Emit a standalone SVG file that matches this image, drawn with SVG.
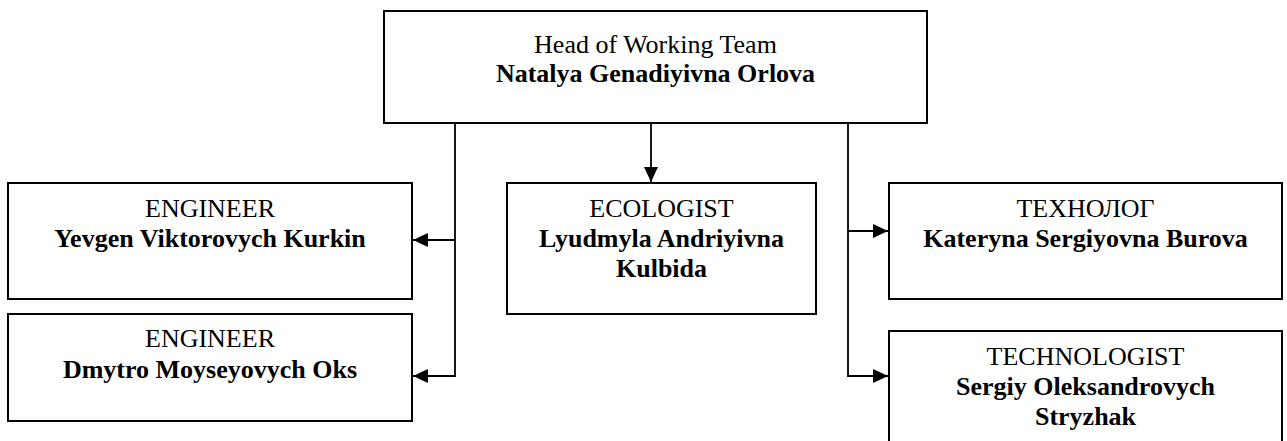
<svg xmlns="http://www.w3.org/2000/svg" width="1287" height="441" viewBox="0 0 1287 441">
  <style>
    .box { fill: #ffffff; stroke: #000000; stroke-width: 2; }
    .conn { fill: none; stroke: #000000; stroke-width: 1.8; }
    text { font-family: "Liberation Serif", "Times New Roman", serif; font-size: 26px; fill: #000000; text-anchor: middle; }
    .b { font-weight: bold; }
  </style>
  <defs>
    <marker id="arrow" markerUnits="userSpaceOnUse" markerWidth="15" markerHeight="14" refX="15" refY="7" orient="auto">
      <path d="M0,0 L15,7 L0,14 z" fill="#000000"/>
    </marker>
  </defs>
  <rect width="1287" height="441" fill="#ffffff"/>

  <g id="connectors">
    <path class="conn" d="M455,123 V376 H413" marker-end="url(#arrow)"/>
    <path class="conn" d="M455,240 H413" marker-end="url(#arrow)"/>
    <path class="conn" d="M651,123 V182" marker-end="url(#arrow)"/>
    <path class="conn" d="M848,123 V376 H888" marker-end="url(#arrow)"/>
    <path class="conn" d="M848,231 H888" marker-end="url(#arrow)"/>
  </g>

  <g id="head">
    <rect class="box" x="384" y="11" width="543" height="112"/>
    <text x="655.5" y="53">Head of Working Team</text>
    <text class="b" x="655.5" y="82">Natalya Genadiyivna Orlova</text>
  </g>

  <g id="engineer1">
    <rect class="box" x="8" y="183" width="404" height="116"/>
    <text x="210" y="217">ENGINEER</text>
    <text class="b" x="210" y="247">Yevgen Viktorovych Kurkin</text>
  </g>

  <g id="engineer2">
    <rect class="box" x="8" y="314" width="404" height="107"/>
    <text x="210" y="347">ENGINEER</text>
    <text class="b" x="210" y="378">Dmytro Moyseyovych Oks</text>
  </g>

  <g id="ecologist">
    <rect class="box" x="507" y="183" width="309" height="131"/>
    <text x="661.5" y="217">ECOLOGIST</text>
    <text class="b" x="661.5" y="247">Lyudmyla Andriyivna</text>
    <text class="b" x="661.5" y="277">Kulbida</text>
  </g>

  <g id="technolog1">
    <rect class="box" x="889" y="183" width="393" height="116"/>
    <text x="1085.5" y="217">ТЕХНОЛОГ</text>
    <text class="b" x="1085.5" y="247">Kateryna Sergiyovna Burova</text>
  </g>

  <g id="technologist2">
    <rect class="box" x="889" y="331" width="393" height="130"/>
    <text x="1085.5" y="365">TECHNOLOGIST</text>
    <text class="b" x="1085.5" y="395">Sergiy Oleksandrovych</text>
    <text class="b" x="1085.5" y="425">Stryzhak</text>
  </g>
</svg>
